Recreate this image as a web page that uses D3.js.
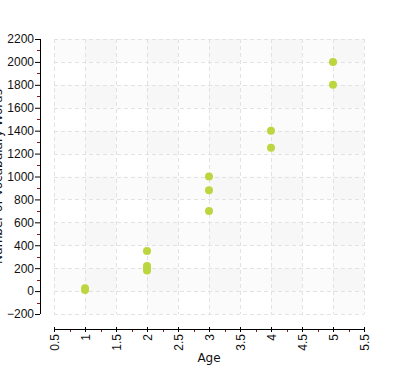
<!DOCTYPE html>
<html>
<head>
<meta charset="utf-8">
<script src="https://cdn.jsdelivr.net/npm/d3@7"></script>
<style>
	body { margin: 0; background: #ffffff; }
	svg { display: block; font-family: 'DejaVu Sans', Verdana, sans-serif; }
</style>
</head>
<body>
<svg id="chart" width="398" height="370"></svg>
<script>

// Data
var aAge    = [1, 1, 2, 2, 2, 2, 3, 3, 3, 4, 4, 5, 5];
var aWords  = [10, 25, 350, 220, 200, 180, 1000, 880, 700, 1400, 1250, 2000, 1800];
var aTicksX = [0.5, 1, 1.5, 2, 2.5, 3, 3.5, 4, 4.5, 5, 5.5];
var aTicksY = [-200, 0, 200, 400, 600, 800, 1000, 1200, 1400, 1600, 1800, 2000, 2200];
var strTitleX = 'Age';
var strTitleY = 'Number of Vocabulary Words';

var sSvg = d3.select('#chart');

var nLeft = 54, nRight = 364, nTop = 39, nBottom = 314;
var nAxisYPos = 40, nAxisXPos = 329;

var scaleX = d3.scaleLinear().domain([0.5, 5.5]).range([nLeft, nRight]);
var scaleY = d3.scaleLinear().domain([-200, 2200]).range([nBottom, nTop]);

// background bands, row and column
var sBands = sSvg.append('g');
for (var nRow = 0; nRow < aTicksY.length - 1; nRow++)
{
	if ((aTicksY.length - 2 - nRow) % 2 == 0)
	{
		sBands.append('rect')
			.attr('x', nLeft)
			.attr('width', nRight - nLeft)
			.attr('y', scaleY(aTicksY[nRow + 1]))
			.attr('height', scaleY(aTicksY[nRow]) - scaleY(aTicksY[nRow + 1]))
			.attr('fill', '#000')
			.attr('fill-opacity', 0.014);
	}
}
for (var nCol = 0; nCol < aTicksX.length - 1; nCol++)
{
	if (nCol % 2 == 1)
	{
		sBands.append('rect')
			.attr('x', scaleX(aTicksX[nCol]))
			.attr('width', scaleX(aTicksX[nCol + 1]) - scaleX(aTicksX[nCol]))
			.attr('y', nTop)
			.attr('height', nBottom - nTop)
			.attr('fill', '#000')
			.attr('fill-opacity', 0.014);
	}
}

// dashed grid
var sGrid = sSvg.append('g')
	.attr('stroke', '#e2e2e2')
	.attr('stroke-dasharray', '4,3')
	.attr('stroke-width', 1);
aTicksY.forEach(function(v)
{
	sGrid.append('line')
		.attr('x1', nLeft).attr('x2', nRight)
		.attr('y1', Math.round(scaleY(v)) + 0.5).attr('y2', Math.round(scaleY(v)) + 0.5);
});
aTicksX.forEach(function(v)
{
	sGrid.append('line')
		.attr('y1', nTop).attr('y2', nBottom)
		.attr('x1', Math.round(scaleX(v)) + 0.5).attr('x2', Math.round(scaleX(v)) + 0.5);
});

// y axis
var axisY = d3.axisLeft(scaleY)
	.tickValues(aTicksY)
	.tickSize(5)
	.tickPadding(1)
	.tickFormat(d3.format('d'));
var sAxisY = sSvg.append('g')
	.attr('transform', 'translate(' + nAxisYPos + ',0)')
	.call(axisY);
sAxisY.select('.domain').attr('d', 'M0.5,' + nTop + 'V' + nBottom);
sAxisY.selectAll('text').attr('font-size', 12).attr('font-family', null).attr('fill', '#111');

// minor y ticks
sSvg.append('g').selectAll('line')
	.data(d3.range(-100, 2200, 200))
	.enter().append('line')
		.attr('x1', nAxisYPos - 3).attr('x2', nAxisYPos)
		.attr('y1', function(v) { return Math.round(scaleY(v)) + 0.5; })
		.attr('y2', function(v) { return Math.round(scaleY(v)) + 0.5; })
		.attr('stroke', '#8b1a1a');

// x axis
var axisX = d3.axisBottom(scaleX)
	.tickValues(aTicksX)
	.tickSize(3)
	.tickFormat(function(v) { return String(v); });
var sAxisX = sSvg.append('g')
	.attr('transform', 'translate(0,' + nAxisXPos + ')')
	.call(axisX);
sAxisX.select('.domain').attr('d', 'M' + nLeft + ',0.5H' + nRight);
sAxisX.selectAll('.tick line').attr('y1', -2);
sAxisX.selectAll('text')
	.attr('font-size', 12)
	.attr('font-family', null)
	.attr('fill', '#111')
	.attr('transform', 'rotate(-90)')
	.attr('text-anchor', 'end')
	.attr('x', -5)
	.attr('y', 0)
	.attr('dy', '0.35em');

// minor x ticks
sSvg.append('g').selectAll('line')
	.data(d3.range(0.75, 5.5, 0.5))
	.enter().append('line')
		.attr('x1', function(v) { return Math.round(scaleX(v)) + 0.5; })
		.attr('x2', function(v) { return Math.round(scaleX(v)) + 0.5; })
		.attr('y1', nAxisXPos + 1).attr('y2', nAxisXPos + 3)
		.attr('stroke', '#8b1a1a');

// axis titles
sSvg.append('text')
	.attr('x', (nLeft + nRight) / 2)
	.attr('y', 362)
	.attr('text-anchor', 'middle')
	.attr('font-size', 12)
	.attr('fill', '#111')
	.text(strTitleX);

// y title sits partly off the left edge, as in the reference
sSvg.append('text')
	.attr('transform', 'translate(2,' + ((nTop + nBottom) / 2) + ') rotate(-90)')
	.attr('text-anchor', 'middle')
	.attr('font-size', 12)
	.attr('fill', '#111')
	.text(strTitleY);

// points
sSvg.append('g').selectAll('circle')
	.data(aAge.map(function(a, i) { return [a, aWords[i]]; }))
	.enter().append('circle')
		.attr('cx', function(d) { return scaleX(d[0]); })
		.attr('cy', function(d) { return scaleY(d[1]); })
		.attr('r', 4)
		.attr('fill', '#bcd640');

</script>
</body>
</html>
